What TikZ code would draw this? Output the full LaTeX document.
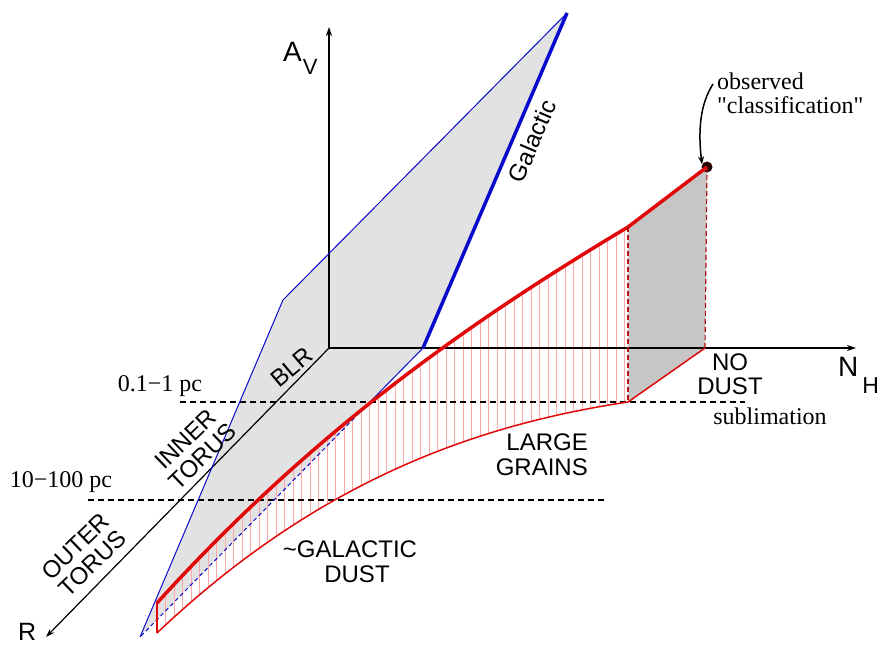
\documentclass[tikz,border=0pt]{standalone}
\usepackage{fontspec}
\setmainfont{Liberation Serif}[Ligatures=TeXOff]
\setsansfont{Liberation Sans}
\usetikzlibrary{arrows.meta}
\definecolor{planegray}{HTML}{E2E2E2}
\definecolor{boxgray}{HTML}{C6C6C6}
\definecolor{gblue}{HTML}{0A0ACC}
\definecolor{dred}{HTML}{E00808}
\definecolor{hpink}{HTML}{FFA8A8}
\definecolor{maroon}{HTML}{B01010}
\begin{document}
\begin{tikzpicture}[x=1pt,y=-1pt,
  axis/.style={line width=1.2pt, -{Stealth[length=9pt,width=6pt]}},
  bthin/.style={gblue, line width=1pt},
  bthick/.style={gblue, line width=3.5pt},
  rthick/.style={dred, line width=3.5pt},
  rthin/.style={dred, line width=1.5pt},
  hatchline/.style={hpink, line width=1pt},
  level/.style={line width=1.5pt, dash pattern=on 6pt off 4pt},
  sanslab/.style={font=\fontsize{24}{24.5}\selectfont\sffamily, inner sep=0pt, align=center},
  seriflab/.style={font=\fontsize{24}{24}\selectfont, inner sep=0pt},
]
\useasboundingbox (0,0) rectangle (879,646);

% key points
\coordinate (O) at (329,348);
\coordinate (Atop) at (329,27);
\coordinate (Nend) at (856,348);
\coordinate (Rend) at (46,637);
\coordinate (GA) at (140,637);
\coordinate (GB) at (283,300);
\coordinate (GC) at (567,13);
\coordinate (GD) at (423,348);
\coordinate (X) at (369,403);
\coordinate (K) at (628,227);
\coordinate (KB) at (628,402);
\coordinate (ObsB) at (705,348);
\coordinate (U0) at (157,603);
\coordinate (L0) at (157,633);
\coordinate (L1a) at (180,402);
\coordinate (L1b) at (745,402);
\coordinate (L2a) at (88,500);
\coordinate (L2b) at (607,500);
\coordinate (arrS) at (713,84);

% fills
\fill[planegray] (GA) -- (GB) -- (GC) -- (GD) -- cycle;
\fill[boxgray] (K) -- (707,167) -- (ObsB) -- (KB) -- cycle;

% hatching between the two red curves
\begin{scope}
\clip (U0) .. controls (314,430) and (471,321) .. (K) -- (KB)
  .. controls (471,425.5) and (314,484) .. (L0) -- cycle;
\foreach \x in {157,165.5,...,628} \draw[hatchline] (\x,200) -- (\x,650);
\end{scope}

% axes
\draw[axis] (O) -- (Atop);
\draw[axis] (O) -- (Nend);
\draw[axis] (O) -- (Rend);

% distance levels
\draw[level] (L1a) -- (L1b);
\draw[level] (L2a) -- (L2b);

% galactic plane
\draw[bthin] (GA) -- (GB) -- (GC);
\draw[bthick] (GD) -- (GC);
\draw[bthin] (GD) -- (X);
\draw[bthin, dash pattern=on 4pt off 3pt] (X) -- (GA);

% red surface
\draw[rthin] (L0) .. controls (314,484) and (471,425.5) .. (KB) -- (ObsB);
\draw[rthin] (L0) -- (U0);
\node[circle, fill=black!85!red, inner sep=0pt, minimum size=11pt] (dot) at (707,167) {};
\draw[rthick] (U0) .. controls (314,430) and (471,321) .. (K) -- (dot.center);
\draw[maroon, line width=1.2pt, dash pattern=on 5pt off 3pt] (K) -- (KB);
\draw[maroon, line width=1.2pt, dash pattern=on 5pt off 3pt] (dot.center) -- (ObsB);

% labels
\node[seriflab, align=left, anchor=west] (obs) at (717,93.5) {observed\\"classification"};
\draw[line width=1.5pt, -{Stealth[length=8pt,width=6pt]}] (arrS) .. controls (703,100) and (697,122) .. ([xshift=-5pt,yshift=-3pt]dot.north);

\node[inner sep=0pt, anchor=base west, font=\fontsize{28}{28}\selectfont\sffamily] (avlab) at (283,61) {A\kern1pt\raisebox{-13pt}{\fontsize{22}{22}\selectfont V}};
\node[inner sep=0pt, anchor=base west, font=\fontsize{28}{28}\selectfont\sffamily] (nhlab) at (838,376) {N\kern4pt\raisebox{-17pt}{\fontsize{23}{23}\selectfont H}};
\node[inner sep=0pt, anchor=base west, font=\fontsize{25}{25}\selectfont\sffamily] (rlab) at (18,640) {R};

\node[sanslab, rotate=40] (blr) at (292,367) {BLR};
\node[sanslab, rotate=44] (inner) at (194,448) {INNER\\TORUS};
\node[sanslab, rotate=44] (outer) at (84,555) {OUTER\\TORUS};
\node[sanslab, rotate=66.7] (gal) at (532,141) {Galactic};
\node[sanslab, align=right, anchor=east] (large) at (588,454.5) {LARGE\\GRAINS};
\node[sanslab] (nodust) at (730,374) {NO\\DUST};
\node[sanslab] (gdust) at (357,561.5) {\llap{\textasciitilde}GALACTIC\\DUST};
\node[seriflab] (subl) at (770,416) {sublimation};
\node[seriflab] (pc1) at (160,386) {0.1−1 pc};
\node[seriflab] (pc2) at (61,482) {10−100 pc};
\end{tikzpicture}
\end{document}
